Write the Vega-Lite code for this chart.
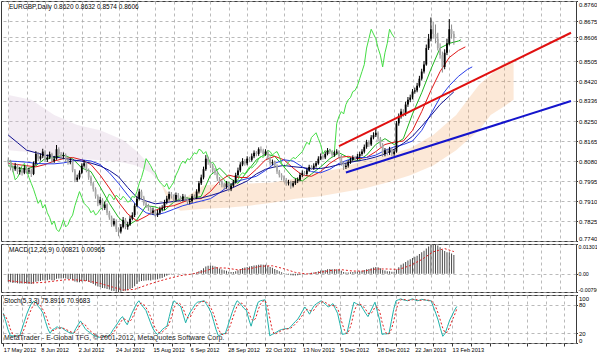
{
"$schema":"https://vega.github.io/schema/vega-lite/v6.json",
"padding":0,
"background":"white",
"spacing":1,
"config":{
 "font":"Liberation Sans",
 "view":{"stroke":"#3a3a3a","strokeWidth":1},
 "axis":{"labelFont":"Liberation Sans","labelFontSize":6,"labelColor":"#000","tickColor":"#333","tickSize":1.5,"domain":false,"gridColor":"#a8a8a8","gridDash":[3,3],"gridWidth":0.8,"title":null,"labelOverlap":false}
},
"datasets":{
"bars":[
{"i":0,"o":0.8085,"h":0.8095,"l":0.8065,"c":0.8075,"k":0.8075,"m":-0.0035,"st":62,"sg":60},
{"i":1,"o":0.8075,"h":0.8085,"l":0.8040,"c":0.8050,"k":0.8080,"m":-0.0037,"st":45,"sg":55},
{"i":2,"o":0.8050,"h":0.8062,"l":0.8032,"c":0.8045,"k":0.8040,"m":-0.0040,"st":28,"sg":45},
{"i":3,"o":0.8045,"h":0.8072,"l":0.8038,"c":0.8060,"k":0.8000,"m":-0.0039,"st":15,"sg":29},
{"i":4,"o":0.8060,"h":0.8068,"l":0.8025,"c":0.8035,"k":0.8010,"m":-0.0041,"st":15,"sg":19},
{"i":5,"o":0.8035,"h":0.8055,"l":0.8022,"c":0.8040,"k":0.8030,"m":-0.0042,"st":14,"sg":15},
{"i":6,"o":0.8040,"h":0.8050,"l":0.8018,"c":0.8030,"k":0.8060,"m":-0.0043,"st":16,"sg":15},
{"i":7,"o":0.8030,"h":0.8062,"l":0.8024,"c":0.8050,"k":0.8070,"m":-0.0042,"st":15,"sg":15},
{"i":8,"o":0.8050,"h":0.8058,"l":0.8026,"c":0.8035,"k":0.8040,"m":-0.0043,"st":30,"sg":20},
{"i":9,"o":0.8035,"h":0.8052,"l":0.8025,"c":0.8040,"k":0.8010,"m":-0.0044,"st":45,"sg":30},
{"i":10,"o":0.8040,"h":0.8048,"l":0.8012,"c":0.8025,"k":0.7985,"m":-0.0045,"st":60,"sg":45},
{"i":11,"o":0.8025,"h":0.8078,"l":0.8020,"c":0.8070,"k":0.7960,"m":-0.0042,"st":72,"sg":59},
{"i":12,"o":0.8070,"h":0.8122,"l":0.8062,"c":0.8110,"k":0.7930,"m":-0.0035,"st":82,"sg":71},
{"i":13,"o":0.8110,"h":0.8118,"l":0.8080,"c":0.8090,"k":0.7900,"m":-0.0033,"st":87,"sg":80},
{"i":14,"o":0.8090,"h":0.8112,"l":0.8082,"c":0.8100,"k":0.7915,"m":-0.0031,"st":84,"sg":84},
{"i":15,"o":0.8100,"h":0.8132,"l":0.8092,"c":0.8120,"k":0.7880,"m":-0.0028,"st":76,"sg":82},
{"i":16,"o":0.8120,"h":0.8126,"l":0.8075,"c":0.8085,"k":0.7895,"m":-0.0029,"st":70,"sg":77},
{"i":17,"o":0.8085,"h":0.8108,"l":0.8076,"c":0.8095,"k":0.7860,"m":-0.0028,"st":62,"sg":69},
{"i":18,"o":0.8095,"h":0.8120,"l":0.8088,"c":0.8110,"k":0.7840,"m":-0.0025,"st":45,"sg":59},
{"i":19,"o":0.8110,"h":0.8115,"l":0.8070,"c":0.8080,"k":0.7810,"m":-0.0028,"st":30,"sg":46},
{"i":20,"o":0.8080,"h":0.8102,"l":0.8072,"c":0.8090,"k":0.7825,"m":-0.0028,"st":20,"sg":32},
{"i":21,"o":0.8090,"h":0.8148,"l":0.8085,"c":0.8130,"k":0.7790,"m":-0.0022,"st":28,"sg":26},
{"i":22,"o":0.8130,"h":0.8138,"l":0.8100,"c":0.8110,"k":0.7780,"m":-0.0021,"st":30,"sg":26},
{"i":23,"o":0.8110,"h":0.8118,"l":0.8088,"c":0.8100,"k":0.7800,"m":-0.0021,"st":34,"sg":31},
{"i":24,"o":0.8100,"h":0.8116,"l":0.8090,"c":0.8105,"k":0.7830,"m":-0.0020,"st":30,"sg":31},
{"i":25,"o":0.8105,"h":0.8112,"l":0.8076,"c":0.8085,"k":0.7800,"m":-0.0021,"st":32,"sg":32},
{"i":26,"o":0.8085,"h":0.8095,"l":0.8064,"c":0.8075,"k":0.7810,"m":-0.0023,"st":28,"sg":30},
{"i":27,"o":0.8075,"h":0.8092,"l":0.8066,"c":0.8080,"k":0.7835,"m":-0.0023,"st":25,"sg":28},
{"i":28,"o":0.8080,"h":0.8086,"l":0.8032,"c":0.8040,"k":0.7850,"m":-0.0028,"st":22,"sg":25},
{"i":29,"o":0.8040,"h":0.8046,"l":0.7990,"c":0.8000,"k":0.7890,"m":-0.0034,"st":21,"sg":23},
{"i":30,"o":0.8000,"h":0.8022,"l":0.7992,"c":0.8010,"k":0.7920,"m":-0.0037,"st":20,"sg":21},
{"i":31,"o":0.8010,"h":0.8040,"l":0.8002,"c":0.8030,"k":0.7950,"m":-0.0037,"st":30,"sg":24},
{"i":32,"o":0.8030,"h":0.8070,"l":0.8024,"c":0.8060,"k":0.7925,"m":-0.0034,"st":38,"sg":29},
{"i":33,"o":0.8060,"h":0.8084,"l":0.8052,"c":0.8070,"k":0.7900,"m":-0.0031,"st":46,"sg":38},
{"i":34,"o":0.8070,"h":0.8078,"l":0.8032,"c":0.8040,"k":0.7890,"m":-0.0032,"st":38,"sg":41},
{"i":35,"o":0.8040,"h":0.8048,"l":0.8000,"c":0.8010,"k":0.7880,"m":-0.0035,"st":30,"sg":38},
{"i":36,"o":0.8010,"h":0.8018,"l":0.7975,"c":0.7985,"k":0.7860,"m":-0.0040,"st":25,"sg":31},
{"i":37,"o":0.7985,"h":0.7992,"l":0.7950,"c":0.7960,"k":0.7870,"m":-0.0045,"st":22,"sg":26},
{"i":38,"o":0.7960,"h":0.7968,"l":0.7920,"c":0.7930,"k":0.7850,"m":-0.0051,"st":18,"sg":22},
{"i":39,"o":0.7930,"h":0.7938,"l":0.7888,"c":0.7900,"k":0.7860,"m":-0.0056,"st":15,"sg":18},
{"i":40,"o":0.7900,"h":0.7928,"l":0.7892,"c":0.7915,"k":0.7875,"m":-0.0058,"st":13,"sg":15},
{"i":41,"o":0.7915,"h":0.7922,"l":0.7870,"c":0.7880,"k":0.7880,"m":-0.0062,"st":12,"sg":13},
{"i":42,"o":0.7880,"h":0.7908,"l":0.7872,"c":0.7895,"k":0.7905,"m":-0.0063,"st":12,"sg":12},
{"i":43,"o":0.7895,"h":0.7900,"l":0.7850,"c":0.7860,"k":0.7920,"m":-0.0066,"st":14,"sg":13},
{"i":44,"o":0.7860,"h":0.7868,"l":0.7830,"c":0.7840,"k":0.7940,"m":-0.0069,"st":12,"sg":13},
{"i":45,"o":0.7840,"h":0.7848,"l":0.7800,"c":0.7810,"k":0.7930,"m":-0.0074,"st":15,"sg":14},
{"i":46,"o":0.7810,"h":0.7836,"l":0.7802,"c":0.7825,"k":0.7915,"m":-0.0075,"st":20,"sg":16},
{"i":47,"o":0.7825,"h":0.7832,"l":0.7778,"c":0.7790,"k":0.7935,"m":-0.0078,"st":28,"sg":21},
{"i":48,"o":0.7790,"h":0.7798,"l":0.7760,"c":0.7780,"k":0.7925,"m":-0.0080,"st":35,"sg":28},
{"i":49,"o":0.7780,"h":0.7812,"l":0.7772,"c":0.7800,"k":0.7915,"m":-0.0079,"st":42,"sg":35},
{"i":50,"o":0.7800,"h":0.7842,"l":0.7794,"c":0.7830,"k":0.7930,"m":-0.0075,"st":50,"sg":42},
{"i":51,"o":0.7830,"h":0.7838,"l":0.7790,"c":0.7800,"k":0.7920,"m":-0.0074,"st":55,"sg":49},
{"i":52,"o":0.7800,"h":0.7822,"l":0.7788,"c":0.7810,"k":0.7905,"m":-0.0072,"st":45,"sg":50},
{"i":53,"o":0.7810,"h":0.7846,"l":0.7804,"c":0.7835,"k":0.7910,"m":-0.0067,"st":38,"sg":46},
{"i":54,"o":0.7835,"h":0.7862,"l":0.7828,"c":0.7850,"k":0.7930,"m":-0.0062,"st":50,"sg":44},
{"i":55,"o":0.7850,"h":0.7900,"l":0.7842,"c":0.7890,"k":0.7925,"m":-0.0054,"st":62,"sg":50},
{"i":56,"o":0.7890,"h":0.7932,"l":0.7884,"c":0.7920,"k":0.7950,"m":-0.0045,"st":72,"sg":61},
{"i":57,"o":0.7920,"h":0.7962,"l":0.7912,"c":0.7950,"k":0.7985,"m":-0.0035,"st":82,"sg":72},
{"i":58,"o":0.7950,"h":0.7958,"l":0.7915,"c":0.7925,"k":0.8010,"m":-0.0031,"st":88,"sg":81},
{"i":59,"o":0.7925,"h":0.7932,"l":0.7890,"c":0.7900,"k":0.8045,"m":-0.0030,"st":80,"sg":83},
{"i":60,"o":0.7900,"h":0.7910,"l":0.7880,"c":0.7890,"k":0.8090,"m":-0.0029,"st":74,"sg":81},
{"i":61,"o":0.7890,"h":0.7898,"l":0.7868,"c":0.7880,"k":0.8075,"m":-0.0028,"st":68,"sg":74},
{"i":62,"o":0.7880,"h":0.7888,"l":0.7850,"c":0.7860,"k":0.8060,"m":-0.0029,"st":55,"sg":66},
{"i":63,"o":0.7860,"h":0.7882,"l":0.7852,"c":0.7870,"k":0.8040,"m":-0.0026,"st":42,"sg":55},
{"i":64,"o":0.7870,"h":0.7876,"l":0.7840,"c":0.7850,"k":0.8030,"m":-0.0026,"st":30,"sg":42},
{"i":65,"o":0.7850,"h":0.7872,"l":0.7842,"c":0.7860,"k":0.8005,"m":-0.0024,"st":22,"sg":31},
{"i":66,"o":0.7860,"h":0.7886,"l":0.7852,"c":0.7875,"k":0.7990,"m":-0.0021,"st":18,"sg":23},
{"i":67,"o":0.7875,"h":0.7892,"l":0.7866,"c":0.7880,"k":0.7980,"m":-0.0018,"st":22,"sg":21},
{"i":68,"o":0.7880,"h":0.7915,"l":0.7872,"c":0.7905,"k":0.7970,"m":-0.0013,"st":28,"sg":23},
{"i":69,"o":0.7905,"h":0.7932,"l":0.7896,"c":0.7920,"k":0.7985,"m":-0.0009,"st":32,"sg":27},
{"i":70,"o":0.7920,"h":0.7950,"l":0.7912,"c":0.7940,"k":0.7960,"m":-0.0004,"st":35,"sg":32},
{"i":71,"o":0.7940,"h":0.7948,"l":0.7920,"c":0.7930,"k":0.7975,"m":-0.0002,"st":55,"sg":41},
{"i":72,"o":0.7930,"h":0.7938,"l":0.7905,"c":0.7915,"k":0.7990,"m":-0.0001,"st":75,"sg":55},
{"i":73,"o":0.7915,"h":0.7946,"l":0.7908,"c":0.7935,"k":0.8020,"m":0.0001,"st":88,"sg":73},
{"i":74,"o":0.7935,"h":0.7944,"l":0.7915,"c":0.7925,"k":0.8040,"m":0.0001,"st":84,"sg":82},
{"i":75,"o":0.7925,"h":0.7932,"l":0.7906,"c":0.7915,"k":0.8065,"m":0.0000,"st":80,"sg":84},
{"i":76,"o":0.7915,"h":0.7940,"l":0.7908,"c":0.7930,"k":0.8080,"m":0.0001,"st":75,"sg":80},
{"i":77,"o":0.7930,"h":0.7938,"l":0.7910,"c":0.7920,"k":0.8070,"m":0.0001,"st":58,"sg":71},
{"i":78,"o":0.7920,"h":0.7926,"l":0.7895,"c":0.7905,"k":0.8090,"m":0.0000,"st":42,"sg":58},
{"i":79,"o":0.7905,"h":0.7920,"l":0.7896,"c":0.7910,"k":0.8085,"m":0.0000,"st":55,"sg":52},
{"i":80,"o":0.7910,"h":0.7940,"l":0.7902,"c":0.7930,"k":0.8100,"m":0.0002,"st":65,"sg":54},
{"i":81,"o":0.7930,"h":0.7938,"l":0.7915,"c":0.7925,"k":0.8115,"m":0.0003,"st":72,"sg":64},
{"i":82,"o":0.7925,"h":0.7960,"l":0.7918,"c":0.7950,"k":0.8110,"m":0.0006,"st":80,"sg":72},
{"i":83,"o":0.7950,"h":0.7995,"l":0.7942,"c":0.7985,"k":0.8130,"m":0.0011,"st":85,"sg":79},
{"i":84,"o":0.7985,"h":0.8022,"l":0.7978,"c":0.8010,"k":0.8125,"m":0.0017,"st":86,"sg":84},
{"i":85,"o":0.8010,"h":0.8056,"l":0.8002,"c":0.8045,"k":0.8110,"m":0.0024,"st":87,"sg":86},
{"i":86,"o":0.8045,"h":0.8105,"l":0.8038,"c":0.8090,"k":0.8120,"m":0.0032,"st":88,"sg":87},
{"i":87,"o":0.8090,"h":0.8098,"l":0.8064,"c":0.8075,"k":0.8095,"m":0.0035,"st":80,"sg":85},
{"i":88,"o":0.8075,"h":0.8082,"l":0.8050,"c":0.8060,"k":0.8070,"m":0.0036,"st":72,"sg":80},
{"i":89,"o":0.8060,"h":0.8068,"l":0.8030,"c":0.8040,"k":0.8075,"m":0.0035,"st":62,"sg":71},
{"i":90,"o":0.8040,"h":0.8050,"l":0.8020,"c":0.8030,"k":0.8060,"m":0.0032,"st":45,"sg":60},
{"i":91,"o":0.8030,"h":0.8038,"l":0.7995,"c":0.8005,"k":0.8035,"m":0.0028,"st":28,"sg":45},
{"i":92,"o":0.8005,"h":0.8012,"l":0.7978,"c":0.7990,"k":0.8020,"m":0.0023,"st":15,"sg":29},
{"i":93,"o":0.7990,"h":0.7998,"l":0.7968,"c":0.7980,"k":0.8010,"m":0.0019,"st":17,"sg":20},
{"i":94,"o":0.7980,"h":0.7988,"l":0.7960,"c":0.7970,"k":0.8000,"m":0.0015,"st":19,"sg":17},
{"i":95,"o":0.7970,"h":0.7995,"l":0.7962,"c":0.7985,"k":0.7985,"m":0.0013,"st":20,"sg":19},
{"i":96,"o":0.7985,"h":0.7992,"l":0.7950,"c":0.7960,"k":0.7990,"m":0.0009,"st":35,"sg":25},
{"i":97,"o":0.7960,"h":0.7986,"l":0.7952,"c":0.7975,"k":0.7975,"m":0.0008,"st":50,"sg":35},
{"i":98,"o":0.7975,"h":0.8000,"l":0.7968,"c":0.7990,"k":0.7985,"m":0.0008,"st":65,"sg":50},
{"i":99,"o":0.7990,"h":0.8030,"l":0.7984,"c":0.8020,"k":0.7995,"m":0.0011,"st":78,"sg":64},
{"i":100,"o":0.8020,"h":0.8052,"l":0.8012,"c":0.8040,"k":0.8000,"m":0.0015,"st":88,"sg":77},
{"i":101,"o":0.8040,"h":0.8075,"l":0.8032,"c":0.8065,"k":0.8020,"m":0.0020,"st":84,"sg":83},
{"i":102,"o":0.8065,"h":0.8092,"l":0.8058,"c":0.8080,"k":0.8030,"m":0.0025,"st":78,"sg":83},
{"i":103,"o":0.8080,"h":0.8088,"l":0.8060,"c":0.8070,"k":0.8025,"m":0.0027,"st":72,"sg":78},
{"i":104,"o":0.8070,"h":0.8100,"l":0.8062,"c":0.8090,"k":0.8040,"m":0.0030,"st":68,"sg":73},
{"i":105,"o":0.8090,"h":0.8098,"l":0.8075,"c":0.8085,"k":0.8055,"m":0.0032,"st":50,"sg":63},
{"i":106,"o":0.8085,"h":0.8112,"l":0.8078,"c":0.8100,"k":0.8050,"m":0.0034,"st":35,"sg":51},
{"i":107,"o":0.8100,"h":0.8125,"l":0.8092,"c":0.8115,"k":0.8060,"m":0.0036,"st":52,"sg":46},
{"i":108,"o":0.8115,"h":0.8122,"l":0.8100,"c":0.8110,"k":0.8070,"m":0.0037,"st":70,"sg":52},
{"i":109,"o":0.8110,"h":0.8138,"l":0.8102,"c":0.8130,"k":0.8090,"m":0.0039,"st":85,"sg":69},
{"i":110,"o":0.8130,"h":0.8142,"l":0.8115,"c":0.8125,"k":0.8100,"m":0.0040,"st":88,"sg":81},
{"i":111,"o":0.8125,"h":0.8132,"l":0.8100,"c":0.8110,"k":0.8095,"m":0.0039,"st":89,"sg":87},
{"i":112,"o":0.8110,"h":0.8130,"l":0.8102,"c":0.8120,"k":0.8110,"m":0.0039,"st":90,"sg":89},
{"i":113,"o":0.8120,"h":0.8126,"l":0.8085,"c":0.8095,"k":0.8125,"m":0.0035,"st":50,"sg":76},
{"i":114,"o":0.8095,"h":0.8100,"l":0.8060,"c":0.8070,"k":0.8120,"m":0.0030,"st":15,"sg":52},
{"i":115,"o":0.8070,"h":0.8086,"l":0.8062,"c":0.8075,"k":0.8105,"m":0.0026,"st":18,"sg":28},
{"i":116,"o":0.8075,"h":0.8082,"l":0.8050,"c":0.8060,"k":0.8115,"m":0.0021,"st":20,"sg":18},
{"i":117,"o":0.8060,"h":0.8066,"l":0.8025,"c":0.8035,"k":0.8120,"m":0.0016,"st":23,"sg":20},
{"i":118,"o":0.8035,"h":0.8042,"l":0.8010,"c":0.8020,"k":0.8100,"m":0.0011,"st":26,"sg":23},
{"i":119,"o":0.8020,"h":0.8028,"l":0.7998,"c":0.8010,"k":0.8070,"m":0.0007,"st":28,"sg":26},
{"i":120,"o":0.8010,"h":0.8018,"l":0.7990,"c":0.8000,"k":0.8055,"m":0.0003,"st":29,"sg":28},
{"i":121,"o":0.8000,"h":0.8008,"l":0.7975,"c":0.7985,"k":0.8060,"m":-0.0001,"st":30,"sg":29},
{"i":122,"o":0.7985,"h":0.8000,"l":0.7976,"c":0.7990,"k":0.8075,"m":-0.0003,"st":30,"sg":30},
{"i":123,"o":0.7990,"h":0.7996,"l":0.7962,"c":0.7975,"k":0.8085,"m":-0.0006,"st":34,"sg":31},
{"i":124,"o":0.7975,"h":0.7995,"l":0.7968,"c":0.7985,"k":0.8095,"m":-0.0007,"st":40,"sg":35},
{"i":125,"o":0.7985,"h":0.8005,"l":0.7978,"c":0.7995,"k":0.8090,"m":-0.0007,"st":45,"sg":40},
{"i":126,"o":0.7995,"h":0.8010,"l":0.7986,"c":0.8000,"k":0.8100,"m":-0.0006,"st":50,"sg":45},
{"i":127,"o":0.8000,"h":0.8030,"l":0.7994,"c":0.8020,"k":0.8110,"m":-0.0004,"st":58,"sg":51},
{"i":128,"o":0.8020,"h":0.8040,"l":0.8012,"c":0.8030,"k":0.8120,"m":-0.0002,"st":67,"sg":58},
{"i":129,"o":0.8030,"h":0.8038,"l":0.8016,"c":0.8025,"k":0.8140,"m":-0.0001,"st":75,"sg":67},
{"i":130,"o":0.8025,"h":0.8050,"l":0.8018,"c":0.8040,"k":0.8160,"m":0.0001,"st":68,"sg":70},
{"i":131,"o":0.8040,"h":0.8064,"l":0.8034,"c":0.8055,"k":0.8150,"m":0.0003,"st":60,"sg":68},
{"i":132,"o":0.8055,"h":0.8062,"l":0.8042,"c":0.8050,"k":0.8180,"m":0.0004,"st":70,"sg":66},
{"i":133,"o":0.8050,"h":0.8070,"l":0.8042,"c":0.8060,"k":0.8190,"m":0.0006,"st":78,"sg":69},
{"i":134,"o":0.8060,"h":0.8080,"l":0.8052,"c":0.8070,"k":0.8200,"m":0.0008,"st":82,"sg":77},
{"i":135,"o":0.8070,"h":0.8100,"l":0.8064,"c":0.8090,"k":0.8175,"m":0.0011,"st":85,"sg":82},
{"i":136,"o":0.8090,"h":0.8112,"l":0.8084,"c":0.8100,"k":0.8150,"m":0.0014,"st":88,"sg":85},
{"i":137,"o":0.8100,"h":0.8108,"l":0.8086,"c":0.8095,"k":0.8110,"m":0.0015,"st":84,"sg":86},
{"i":138,"o":0.8095,"h":0.8120,"l":0.8088,"c":0.8110,"k":0.8125,"m":0.0017,"st":80,"sg":84},
{"i":139,"o":0.8110,"h":0.8135,"l":0.8104,"c":0.8125,"k":0.8115,"m":0.0020,"st":75,"sg":80},
{"i":140,"o":0.8125,"h":0.8132,"l":0.8110,"c":0.8120,"k":0.8130,"m":0.0021,"st":78,"sg":78},
{"i":141,"o":0.8120,"h":0.8126,"l":0.8096,"c":0.8105,"k":0.8110,"m":0.0020,"st":82,"sg":78},
{"i":142,"o":0.8105,"h":0.8124,"l":0.8098,"c":0.8115,"k":0.8120,"m":0.0020,"st":72,"sg":77},
{"i":143,"o":0.8115,"h":0.8130,"l":0.8108,"c":0.8120,"k":0.8240,"m":0.0020,"st":62,"sg":72},
{"i":144,"o":0.8120,"h":0.8126,"l":0.8090,"c":0.8100,"k":0.8270,"m":0.0018,"st":40,"sg":58},
{"i":145,"o":0.8100,"h":0.8106,"l":0.8060,"c":0.8070,"k":0.8290,"m":0.0013,"st":18,"sg":40},
{"i":146,"o":0.8070,"h":0.8078,"l":0.8042,"c":0.8055,"k":0.8280,"m":0.0008,"st":19,"sg":26},
{"i":147,"o":0.8055,"h":0.8070,"l":0.8046,"c":0.8060,"k":0.8320,"m":0.0006,"st":20,"sg":19},
{"i":148,"o":0.8060,"h":0.8084,"l":0.8052,"c":0.8075,"k":0.8340,"m":0.0006,"st":42,"sg":27},
{"i":149,"o":0.8075,"h":0.8095,"l":0.8068,"c":0.8085,"k":0.8350,"m":0.0007,"st":65,"sg":42},
{"i":150,"o":0.8085,"h":0.8104,"l":0.8078,"c":0.8095,"k":0.8375,"m":0.0008,"st":85,"sg":64},
{"i":151,"o":0.8095,"h":0.8102,"l":0.8080,"c":0.8090,"k":0.8380,"m":0.0009,"st":82,"sg":77},
{"i":152,"o":0.8090,"h":0.8110,"l":0.8082,"c":0.8100,"k":0.8400,"m":0.0010,"st":80,"sg":82},
{"i":153,"o":0.8100,"h":0.8120,"l":0.8092,"c":0.8110,"k":0.8430,"m":0.0011,"st":78,"sg":80},
{"i":154,"o":0.8110,"h":0.8130,"l":0.8102,"c":0.8120,"k":0.8460,"m":0.0013,"st":70,"sg":76},
{"i":155,"o":0.8120,"h":0.8150,"l":0.8112,"c":0.8140,"k":0.8490,"m":0.0016,"st":62,"sg":70},
{"i":156,"o":0.8140,"h":0.8170,"l":0.8132,"c":0.8160,"k":0.8560,"m":0.0020,"st":55,"sg":62},
{"i":157,"o":0.8160,"h":0.8168,"l":0.8140,"c":0.8150,"k":0.8600,"m":0.0021,"st":65,"sg":61},
{"i":158,"o":0.8150,"h":0.8190,"l":0.8144,"c":0.8180,"k":0.8640,"m":0.0024,"st":75,"sg":65},
{"i":159,"o":0.8180,"h":0.8202,"l":0.8172,"c":0.8190,"k":0.8620,"m":0.0027,"st":85,"sg":75},
{"i":160,"o":0.8190,"h":0.8215,"l":0.8182,"c":0.8200,"k":0.8600,"m":0.0030,"st":66,"sg":75},
{"i":161,"o":0.8200,"h":0.8206,"l":0.8165,"c":0.8175,"k":0.8560,"m":0.0028,"st":48,"sg":66},
{"i":162,"o":0.8175,"h":0.8182,"l":0.8140,"c":0.8150,"k":0.8530,"m":0.0024,"st":18,"sg":44},
{"i":163,"o":0.8150,"h":0.8156,"l":0.8098,"c":0.8110,"k":0.8480,"m":0.0017,"st":19,"sg":28},
{"i":164,"o":0.8110,"h":0.8135,"l":0.8100,"c":0.8125,"k":0.8540,"m":0.0014,"st":19,"sg":19},
{"i":165,"o":0.8125,"h":0.8132,"l":0.8104,"c":0.8115,"k":0.8580,"m":0.0011,"st":20,"sg":19},
{"i":166,"o":0.8115,"h":0.8140,"l":0.8106,"c":0.8130,"k":0.8640,"m":0.0011,"st":45,"sg":28},
{"i":167,"o":0.8130,"h":0.8136,"l":0.8100,"c":0.8110,"k":0.8620,"m":0.0009,"st":70,"sg":45},
{"i":168,"o":0.8110,"h":0.8130,"l":0.8102,"c":0.8120,"k":0.8606,"m":0.0009,"st":88,"sg":68},
{"i":169,"o":0.8120,"h":0.8250,"l":0.8115,"c":0.8240,"m":0.0019,"st":90,"sg":83},
{"i":170,"o":0.8240,"h":0.8282,"l":0.8230,"c":0.8270,"m":0.0029,"st":92,"sg":90},
{"i":171,"o":0.8270,"h":0.8302,"l":0.8260,"c":0.8290,"m":0.0039,"st":90,"sg":91},
{"i":172,"o":0.8290,"h":0.8300,"l":0.8268,"c":0.8280,"m":0.0045,"st":89,"sg":90},
{"i":173,"o":0.8280,"h":0.8332,"l":0.8272,"c":0.8320,"m":0.0052,"st":88,"sg":89},
{"i":174,"o":0.8320,"h":0.8352,"l":0.8310,"c":0.8340,"m":0.0058,"st":90,"sg":89},
{"i":175,"o":0.8340,"h":0.8362,"l":0.8330,"c":0.8350,"m":0.0063,"st":92,"sg":90},
{"i":176,"o":0.8350,"h":0.8386,"l":0.8342,"c":0.8375,"m":0.0069,"st":90,"sg":91},
{"i":177,"o":0.8375,"h":0.8392,"l":0.8366,"c":0.8380,"m":0.0074,"st":88,"sg":90},
{"i":178,"o":0.8380,"h":0.8412,"l":0.8372,"c":0.8400,"m":0.0079,"st":89,"sg":89},
{"i":179,"o":0.8400,"h":0.8442,"l":0.8392,"c":0.8430,"m":0.0086,"st":91,"sg":89},
{"i":180,"o":0.8430,"h":0.8472,"l":0.8422,"c":0.8460,"m":0.0094,"st":90,"sg":90},
{"i":181,"o":0.8460,"h":0.8505,"l":0.8452,"c":0.8490,"m":0.0101,"st":89,"sg":90},
{"i":182,"o":0.8490,"h":0.8575,"l":0.8485,"c":0.8560,"m":0.0110,"st":88,"sg":89},
{"i":183,"o":0.8560,"h":0.8620,"l":0.8552,"c":0.8600,"m":0.0119,"st":88,"sg":88},
{"i":184,"o":0.8600,"h":0.8690,"l":0.8590,"c":0.8640,"m":0.0126,"st":75,"sg":84},
{"i":185,"o":0.8640,"h":0.8672,"l":0.8600,"c":0.8620,"m":0.0130,"st":62,"sg":75},
{"i":186,"o":0.8620,"h":0.8660,"l":0.8580,"c":0.8600,"m":0.0129,"st":48,"sg":62},
{"i":187,"o":0.8600,"h":0.8625,"l":0.8550,"c":0.8560,"m":0.0124,"st":30,"sg":47},
{"i":188,"o":0.8560,"h":0.8580,"l":0.8515,"c":0.8530,"m":0.0116,"st":14,"sg":31},
{"i":189,"o":0.8530,"h":0.8545,"l":0.8456,"c":0.8480,"m":0.0105,"st":20,"sg":21},
{"i":190,"o":0.8480,"h":0.8555,"l":0.8470,"c":0.8540,"m":0.0099,"st":34,"sg":23},
{"i":191,"o":0.8540,"h":0.8600,"l":0.8530,"c":0.8580,"m":0.0094,"st":48,"sg":34},
{"i":192,"o":0.8580,"h":0.8683,"l":0.8572,"c":0.8640,"m":0.0093,"st":58,"sg":47},
{"i":193,"o":0.8640,"h":0.8660,"l":0.8600,"c":0.8620,"m":0.0089,"st":68,"sg":58},
{"i":194,"o":0.8620,"h":0.8632,"l":0.8574,"c":0.8606,"m":0.0082,"st":76,"sg":71}
],
"ma":[
{"i":0,"g":0.8060,"r":0.8070,"b":0.8080,"n":0.8190},
{"i":4,"g":0.8050,"r":0.8065,"b":0.8078,"n":0.8158},
{"i":8,"g":0.8045,"r":0.8060,"b":0.8075,"n":0.8126},
{"i":12,"g":0.8060,"r":0.8055,"b":0.8070,"n":0.8115},
{"i":16,"g":0.8090,"r":0.8065,"b":0.8068,"n":0.8105},
{"i":20,"g":0.8095,"r":0.8080,"b":0.8068,"n":0.8098},
{"i":24,"g":0.8105,"r":0.8090,"b":0.8072,"n":0.8091},
{"i":28,"g":0.8090,"r":0.8095,"b":0.8080,"n":0.8085},
{"i":32,"g":0.8050,"r":0.8085,"b":0.8085,"n":0.8079},
{"i":36,"g":0.8035,"r":0.8065,"b":0.8080,"n":0.8071},
{"i":40,"g":0.7970,"r":0.8020,"b":0.8065,"n":0.8059},
{"i":44,"g":0.7900,"r":0.7965,"b":0.8030,"n":0.8040},
{"i":48,"g":0.7840,"r":0.7905,"b":0.7985,"n":0.8013},
{"i":52,"g":0.7805,"r":0.7855,"b":0.7935,"n":0.7967},
{"i":56,"g":0.7830,"r":0.7825,"b":0.7890,"n":0.7925},
{"i":60,"g":0.7890,"r":0.7845,"b":0.7860,"n":0.7910},
{"i":64,"g":0.7885,"r":0.7870,"b":0.7850,"n":0.7898},
{"i":68,"g":0.7870,"r":0.7885,"b":0.7860,"n":0.7903},
{"i":72,"g":0.7905,"r":0.7890,"b":0.7875,"n":0.7908},
{"i":76,"g":0.7925,"r":0.7905,"b":0.7890,"n":0.7913},
{"i":80,"g":0.7920,"r":0.7920,"b":0.7900,"n":0.7918},
{"i":84,"g":0.7930,"r":0.7920,"b":0.7910,"n":0.7923},
{"i":88,"g":0.8020,"r":0.7950,"b":0.7920,"n":0.7933},
{"i":92,"g":0.8050,"r":0.7995,"b":0.7945,"n":0.7945},
{"i":96,"g":0.8010,"r":0.8020,"b":0.7975,"n":0.7959},
{"i":100,"g":0.7985,"r":0.8010,"b":0.7995,"n":0.7977},
{"i":104,"g":0.8035,"r":0.8010,"b":0.8005,"n":0.7995},
{"i":108,"g":0.8085,"r":0.8045,"b":0.8015,"n":0.8025},
{"i":112,"g":0.8110,"r":0.8085,"b":0.8040,"n":0.8045},
{"i":116,"g":0.8100,"r":0.8100,"b":0.8070,"n":0.8055},
{"i":120,"g":0.8055,"r":0.8085,"b":0.8085,"n":0.8061},
{"i":124,"g":0.8010,"r":0.8050,"b":0.8080,"n":0.8056},
{"i":128,"g":0.7995,"r":0.8020,"b":0.8055,"n":0.8052},
{"i":132,"g":0.8025,"r":0.8015,"b":0.8035,"n":0.8047},
{"i":136,"g":0.8055,"r":0.8035,"b":0.8030,"n":0.8048},
{"i":140,"g":0.8090,"r":0.8070,"b":0.8045,"n":0.8055},
{"i":144,"g":0.8115,"r":0.8095,"b":0.8070,"n":0.8065},
{"i":148,"g":0.8095,"r":0.8100,"b":0.8085,"n":0.8073},
{"i":152,"g":0.8080,"r":0.8090,"b":0.8095,"n":0.8080},
{"i":156,"g":0.8105,"r":0.8095,"b":0.8095,"n":0.8087},
{"i":160,"g":0.8150,"r":0.8120,"b":0.8105,"n":0.8097},
{"i":164,"g":0.8175,"r":0.8150,"b":0.8125,"n":0.8110},
{"i":168,"g":0.8150,"r":0.8160,"b":0.8140,"n":0.8130},
{"i":172,"g":0.8175,"r":0.8165,"b":0.8150,"n":0.8155},
{"i":176,"g":0.8280,"r":0.8210,"b":0.8165,"n":0.8185},
{"i":180,"g":0.8370,"r":0.8290,"b":0.8210,"n":0.8228},
{"i":184,"g":0.8470,"r":0.8380,"b":0.8280,"n":0.8273},
{"i":188,"g":0.8560,"r":0.8460,"b":0.8350,"n":0.8320},
{"i":192,"g":0.8580,"r":0.8520,"b":0.8400,"n":0.8356},
{"i":194,"n":0.8374},
{"i":196,"g":0.8590,"r":0.8550,"b":0.8440},
{"i":197,"g":0.8595},
{"i":199,"r":0.8565},
{"i":200,"b":0.8470},
{"i":202,"b":0.8480}
],
"cloud":[
{"i":0,"sa":0.8126,"sb":0.8361},
{"i":10,"sa":0.8117,"sb":0.8340},
{"i":20,"sa":0.8104,"sb":0.8276},
{"i":30,"sa":0.8091,"sb":0.8233},
{"i":40,"sa":0.8083,"sb":0.8211},
{"i":50,"sa":0.8074,"sb":0.8169},
{"i":56,"sa":0.8060,"sb":0.8120},
{"i":62,"sa":0.8030,"sb":0.8060},
{"i":66,"sa":0.7990,"sb":0.7995},
{"i":70,"sa":0.7940,"sb":0.7900},
{"i":75,"sa":0.7911,"sb":0.7869},
{"i":85,"sa":0.7976,"sb":0.7877},
{"i":95,"sa":0.7984,"sb":0.7881},
{"i":105,"sa":0.7984,"sb":0.7890},
{"i":115,"sa":0.7989,"sb":0.7903},
{"i":125,"sa":0.8006,"sb":0.7920},
{"i":135,"sa":0.8031,"sb":0.7929},
{"i":145,"sa":0.8049,"sb":0.7946},
{"i":155,"sa":0.8083,"sb":0.7963},
{"i":165,"sa":0.8104,"sb":0.7989},
{"i":175,"sa":0.8134,"sb":0.8019},
{"i":185,"sa":0.8190,"sb":0.8061},
{"i":195,"sa":0.8276,"sb":0.8126},
{"i":200,"sa":0.8340,"sb":0.8169},
{"i":205,"sa":0.8404,"sb":0.8211},
{"i":210,"sa":0.8447,"sb":0.8276},
{"i":215,"sa":0.8490,"sb":0.8306},
{"i":220,"sa":0.8511,"sb":0.8340}
],
"sig":[
{"i":0,"s":-0.0030},{"i":5,"s":-0.0036},{"i":10,"s":-0.0040},{"i":15,"s":-0.0038},{"i":20,"s":-0.0032},
{"i":25,"s":-0.0026},{"i":30,"s":-0.0027},{"i":35,"s":-0.0032},{"i":40,"s":-0.0042},{"i":45,"s":-0.0057},
{"i":50,"s":-0.0071},{"i":55,"s":-0.0068},{"i":60,"s":-0.0050},{"i":65,"s":-0.0034},{"i":70,"s":-0.0020},
{"i":75,"s":-0.0008},{"i":80,"s":-0.0001},{"i":85,"s":0.0010},{"i":90,"s":0.0026},{"i":95,"s":0.0025},
{"i":100,"s":0.0017},{"i":105,"s":0.0022},{"i":110,"s":0.0033},{"i":115,"s":0.0035},{"i":120,"s":0.0022},
{"i":125,"s":0.0006},{"i":130,"s":-0.0001},{"i":135,"s":0.0005},{"i":140,"s":0.0014},{"i":145,"s":0.0018},
{"i":150,"s":0.0012},{"i":155,"s":0.0012},{"i":160,"s":0.0021},{"i":165,"s":0.0021},{"i":170,"s":0.0019},
{"i":175,"s":0.0036},{"i":180,"s":0.0062},{"i":185,"s":0.0096},{"i":190,"s":0.0110},{"i":194,"s":0.0097}
],
"trend":[
{"id":"r","i":144,"p":0.8143},{"id":"r","i":245,"p":0.8625},
{"id":"b","i":147,"p":0.8031},{"id":"b","i":245,"p":0.8335}
]
},
"vconcat":[
{
"width":575,"height":240,
"resolve":{"axis":{"x":"independent","y":"independent"}},
"layer":[
{"data":{"name":"cloud"},"transform":[{"filter":"datum.i <= 66"}],
 "mark":{"type":"area","color":"#D8BFD8","opacity":0.3},
 "encoding":{
  "x":{"field":"i","type":"quantitative","scale":{"domain":[-1,245],"nice":false,"zero":false},
       "axis":{"values":[0,8,16,24,32,40,48,56,64,72,80,88,96,104,112,120,128,136,144,152,160,168,176,184,192,200,208,216,224,232,240],"labels":false,"ticks":false,"grid":true}},
  "y":{"field":"sa","type":"quantitative","scale":{"domain":[0.774,0.876],"nice":false,"zero":false},
       "axis":{"orient":"right","values":[0.774,0.7825,0.791,0.7995,0.808,0.8165,0.825,0.8336,0.842,0.8505,0.859,0.8606,0.8675,0.876],
               "labelExpr":"datum.value == 0.859 ? '' : format(datum.value, '.4f')","labelFlush":true,"labelOverlap":false,"labelPadding":1,"grid":true}},
  "y2":{"field":"sb"}}},
{"data":{"name":"cloud"},"transform":[{"filter":"datum.i >= 66"}],
 "mark":{"type":"area","color":"#F4A460","opacity":0.25},
 "encoding":{
  "x":{"field":"i","type":"quantitative","scale":{"domain":[-1,245],"nice":false,"zero":false},"axis":null},
  "y":{"field":"sa","type":"quantitative","scale":{"domain":[0.774,0.876],"nice":false,"zero":false},"axis":null},
  "y2":{"field":"sb"}}},
{"data":{"name":"ma"},"transform":[{"fold":["g","r","b","n"],"as":["s","v"]},{"filter":"isValid(datum.v)"}],
 "mark":{"type":"line","strokeWidth":1},
 "encoding":{
  "x":{"field":"i","type":"quantitative","scale":{"domain":[-1,245],"nice":false,"zero":false},"axis":null},
  "y":{"field":"v","type":"quantitative","scale":{"domain":[0.774,0.876],"nice":false,"zero":false},"axis":null},
  "color":{"field":"s","type":"nominal","scale":{"domain":["g","r","b","n"],"range":["#1fb41f","#e01818","#2a3ee8","#101090"]},"legend":null}}},
{"data":{"name":"bars"},"transform":[{"filter":"isValid(datum.k)"}],
 "mark":{"type":"line","color":"#44dd44","strokeWidth":1},
 "encoding":{
  "x":{"field":"i","type":"quantitative","scale":{"domain":[-1,245],"nice":false,"zero":false},"axis":null},
  "y":{"field":"k","type":"quantitative","scale":{"domain":[0.774,0.876],"nice":false,"zero":false},"axis":null}}},
{"mark":{"type":"rule","color":"#9a9a9a","strokeWidth":1},
 "encoding":{"y":{"datum":0.8606,"type":"quantitative","scale":{"domain":[0.774,0.876],"nice":false,"zero":false},"axis":null}}},
{"data":{"name":"bars"},
 "mark":{"type":"rule","strokeWidth":1},
 "encoding":{
  "x":{"field":"i","type":"quantitative","scale":{"domain":[-1,245],"nice":false,"zero":false},"axis":null},
  "y":{"field":"l","type":"quantitative","scale":{"domain":[0.774,0.876],"nice":false,"zero":false},"axis":null},
  "y2":{"field":"h"},
  "color":{"condition":{"test":"datum.c >= datum.o","value":"#000000"},"value":"#8a8a8a"}}},
{"data":{"name":"bars"},
 "mark":{"type":"bar","size":1.8},
 "encoding":{
  "x":{"field":"i","type":"quantitative","scale":{"domain":[-1,245],"nice":false,"zero":false},"axis":null},
  "y":{"field":"o","type":"quantitative","scale":{"domain":[0.774,0.876],"nice":false,"zero":false},"axis":null},
  "y2":{"field":"c"},
  "color":{"condition":{"test":"datum.c >= datum.o","value":"#000000"},"value":"#a8a8a8"}}},
{"data":{"name":"trend"},
 "mark":{"type":"line","strokeWidth":2},
 "encoding":{
  "x":{"field":"i","type":"quantitative","scale":{"domain":[-1,245],"nice":false,"zero":false},"axis":null},
  "y":{"field":"p","type":"quantitative","scale":{"domain":[0.774,0.876],"nice":false,"zero":false},"axis":null},
  "detail":{"field":"id"},
  "color":{"condition":{"test":"datum.id == 'r'","value":"#e01010"},"value":"#1414cc"}}},
{"data":{"values":[{"t":"EURGBP,Daily  0.8620 0.8632 0.8574 0.8606"}]},
 "mark":{"type":"text","align":"left","baseline":"top","dx":3,"dy":3,"fontSize":6.5,"color":"#000"},
 "encoding":{
  "x":{"datum":-1,"type":"quantitative","scale":{"domain":[-1,245],"nice":false,"zero":false},"axis":null},
  "y":{"datum":0.876,"type":"quantitative","scale":{"domain":[0.774,0.876],"nice":false,"zero":false},"axis":null},
  "text":{"field":"t"}}}
]
},
{
"width":575,"height":48,
"resolve":{"axis":{"x":"independent","y":"independent"}},
"layer":[
{"data":{"name":"bars"},
 "mark":{"type":"bar","size":1,"color":"#4a4a4a"},
 "encoding":{
  "x":{"field":"i","type":"quantitative","scale":{"domain":[-1,245],"nice":false,"zero":false},
       "axis":{"values":[0,8,16,24,32,40,48,56,64,72,80,88,96,104,112,120,128,136,144,152,160,168,176,184,192,200,208,216,224,232,240],"labels":false,"ticks":false,"grid":true}},
  "y":{"field":"m","type":"quantitative","scale":{"domain":[-0.00796,0.01301],"nice":false,"zero":false},
       "axis":{"orient":"right","values":[-0.00796,0,0.01301],"labelExpr":"datum.value > 0.01 ? '0.01301' : (datum.value < -0.007 ? '-0.00796' : '0.00')","labelFlush":true,"labelOverlap":false,"labelPadding":0.5,"labelFontSize":5.3,"grid":true}},
  "y2":{"datum":0}}},
{"data":{"name":"sig"},
 "mark":{"type":"line","color":"#e02020","strokeWidth":1,"strokeDash":[2,2]},
 "encoding":{
  "x":{"field":"i","type":"quantitative","scale":{"domain":[-1,245],"nice":false,"zero":false},"axis":null},
  "y":{"field":"s","type":"quantitative","scale":{"domain":[-0.00796,0.01301],"nice":false,"zero":false},"axis":null}}},
{"data":{"values":[{"t":"MACD(12,26,9) 0.00821 0.00965"}]},
 "mark":{"type":"text","align":"left","baseline":"top","dx":3,"dy":3,"fontSize":6.5,"color":"#000"},
 "encoding":{
  "x":{"datum":-1,"type":"quantitative","scale":{"domain":[-1,245],"nice":false,"zero":false},"axis":null},
  "y":{"datum":0.01301,"type":"quantitative","scale":{"domain":[-0.00796,0.01301],"nice":false,"zero":false},"axis":null},
  "text":{"field":"t"}}}
]
},
{
"width":575,"height":48,
"resolve":{"axis":{"x":"independent","y":"independent"}},
"layer":[
{"data":{"name":"bars"},
 "mark":{"type":"line","color":"#20b2aa","strokeWidth":1},
 "encoding":{
  "x":{"field":"i","type":"quantitative","scale":{"domain":[-1,245],"nice":false,"zero":false},
       "axis":{"values":[0,8,16,24,32,40,48,56,64,72,80,88,96,104,112,120,128,136,144,152,160,168,176,184,192,200,208,216,224,232,240],
               "labelExpr":"datum.value % 16 == 0 && datum.value <= 192 ? ['17 May 2012','8 Jun 2012','2 Jul 2012','24 Jul 2012','15 Aug 2012','6 Sep 2012','28 Sep 2012','22 Oct 2012','13 Nov 2012','5 Dec 2012','28 Dec 2012','22 Jan 2013','13 Feb 2013'][datum.value/16] : ''",
               "labelAlign":"left","labelOverlap":false,"labelBound":false,"labelFlush":false,"labelFontSize":5.6,"grid":true,"ticks":true,"tickSize":3,"labelPadding":1}},
  "y":{"field":"st","type":"quantitative","scale":{"domain":[0,100],"nice":false,"zero":false},
       "axis":{"orient":"right","values":[0,20,80,100],"labelFlush":true,"labelOverlap":false,"labelPadding":1,"grid":true}}}},
{"data":{"name":"bars"},
 "mark":{"type":"line","color":"#e02020","strokeWidth":1,"strokeDash":[2,2]},
 "encoding":{
  "x":{"field":"i","type":"quantitative","scale":{"domain":[-1,245],"nice":false,"zero":false},"axis":null},
  "y":{"field":"sg","type":"quantitative","scale":{"domain":[0,100],"nice":false,"zero":false},"axis":null}}},
{"data":{"values":[{"t":"Stoch(5,3,3) 75.8916 70.9683"}]},
 "mark":{"type":"text","align":"left","baseline":"top","dx":3,"dy":3,"fontSize":6.5,"color":"#000"},
 "encoding":{
  "x":{"datum":-1,"type":"quantitative","scale":{"domain":[-1,245],"nice":false,"zero":false},"axis":null},
  "y":{"datum":100,"type":"quantitative","scale":{"domain":[0,100],"nice":false,"zero":false},"axis":null},
  "text":{"field":"t"}}},
{"data":{"values":[{"t":"MetaTrader - E-Global TFG, © 2001-2012, MetaQuotes Software Corp."}]},
 "mark":{"type":"text","align":"left","baseline":"bottom","dx":3,"dy":-2,"fontSize":7,"color":"#222"},
 "encoding":{
  "x":{"datum":-1,"type":"quantitative","scale":{"domain":[-1,245],"nice":false,"zero":false},"axis":null},
  "y":{"datum":0,"type":"quantitative","scale":{"domain":[0,100],"nice":false,"zero":false},"axis":null},
  "text":{"field":"t"}}}
]
}
]
}
